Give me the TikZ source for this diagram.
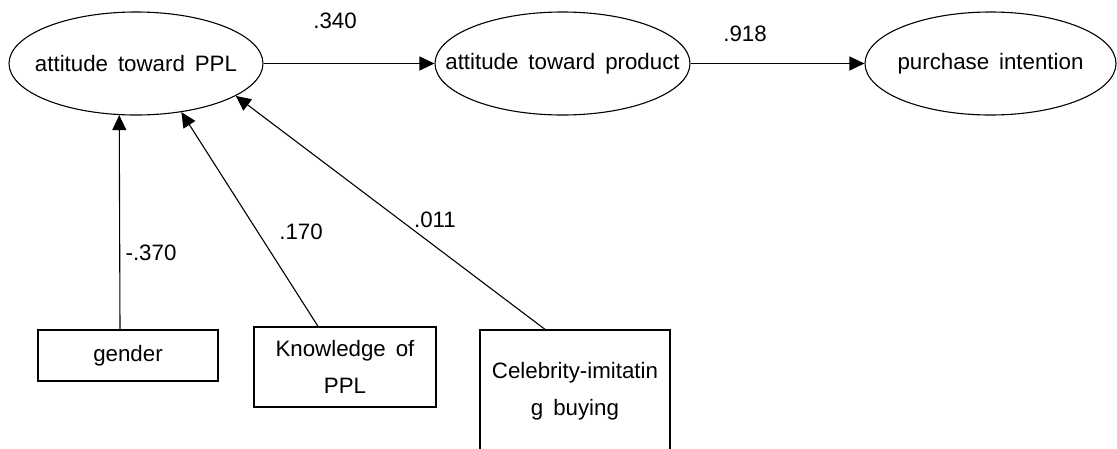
\documentclass[tikz,border=0pt]{standalone}
\usepackage{fontspec}
\setmainfont{Liberation Sans}[WordSpace={1.6}]
\usetikzlibrary{arrows.meta,shapes.geometric}
\begin{document}
\begin{tikzpicture}[x=1pt,y=-1pt,
  every node/.style={font=\fontsize{22.3}{37.5}\selectfont, inner sep=0pt},
  latent/.style={ellipse, draw, line width=1.1pt},
  obs/.style={rectangle, draw, line width=1.3pt, align=center},
  arr/.style={-{Triangle[length=15pt,width=14pt]}, line width=1.1pt},
  coef/.style={}]
\useasboundingbox (0,0) rectangle (1117,448);
\clip (0,0) rectangle (1117,448);
\node[latent, minimum width=254pt, minimum height=103pt] (A) at (136,63.5) {\makebox[0pt][c]{attitude toward PPL}};
\node[latent, minimum width=255pt, minimum height=103pt] (B) at (562.5,63.5) {\makebox[0pt][c]{attitude toward product}};
\node[latent, minimum width=251pt, minimum height=103pt] (P) at (990.5,63.5) {\makebox[0pt][c]{purchase intention}};
\node[obs, minimum width=180pt, minimum height=51pt] (G) at (128,355.5) {gender};
\node[obs, minimum width=182pt, minimum height=80pt] (K) at (345,367) {Knowledge of\\PPL};
\node[obs, minimum width=190pt, minimum height=122pt] (C) at (575,391) {Celebrity-imitatin\\g buying};
\draw[arr] (A) -- (B);
\draw[arr] (B) -- (P);
\draw[arr] ([xshift=-8pt]G.north) -- (A.252.6);
\draw[arr] ([xshift=-27pt]K.north) -- (A.313);
\draw[arr] ([xshift=-30pt]C.north) -- (A.342.7);
\node[coef] (l1) at (335,21) {.340};
\node[coef] (l2) at (745,34) {.918};
\node[coef] (l3) at (151,253) {-.370};
\node[coef] (l4) at (301,232) {.170};
\node[coef] (l5) at (435,220) {.011};
\end{tikzpicture}
\end{document}
